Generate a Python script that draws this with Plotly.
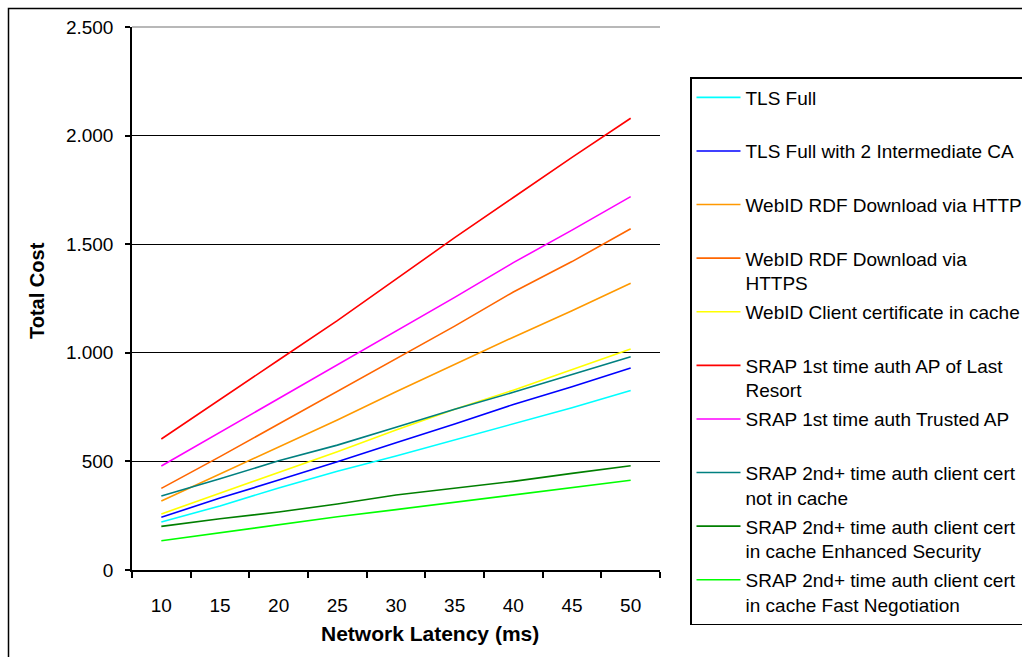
import plotly.graph_objects as go

# Network latency categories (ms)
latency = ["10", "15", "20", "25", "30", "35", "40", "45", "50"]

tls_full = [221, 295, 378, 455, 525, 599, 675, 747, 826]
tls_full_2ca = [243, 331, 414, 498, 586, 672, 762, 844, 930]
webid_http = [318, 442, 568, 691, 821, 947, 1072, 1194, 1320]
webid_https = [376, 522, 672, 823, 975, 1123, 1280, 1420, 1571]
webid_cached = [258, 353, 450, 545, 645, 740, 828, 924, 1017]
srap_first_last_resort = [603, 783, 967, 1148, 1340, 1530, 1715, 1900, 2080]
srap_first_trusted = [479, 634, 787, 944, 1100, 1255, 1415, 1565, 1719]
srap_second_not_cached = [341, 420, 503, 575, 657, 740, 818, 901, 982]
srap_second_enhanced = [201, 236, 267, 304, 345, 376, 408, 445, 480]
srap_second_fast = [135, 172, 207, 245, 278, 312, 346, 380, 413]

y_tickvals = [0, 500, 1000, 1500, 2000, 2500]
y_ticktext = ["0", "500", "1.000", "1.500", "2.000", "2.500"]

series = [
    ("TLS Full", tls_full, "#00FFFF"),
    ("TLS Full with 2 Intermediate CA", tls_full_2ca, "#0000FF"),
    ("WebID RDF Download via HTTP", webid_http, "#FF9900"),
    ("WebID RDF Download via<br>HTTPS", webid_https, "#FF6600"),
    ("WebID Client certificate in cache", webid_cached, "#FFFF00"),
    ("SRAP 1st time auth AP of Last<br>Resort", srap_first_last_resort, "#FF0000"),
    ("SRAP 1st time auth Trusted AP", srap_first_trusted, "#FF00FF"),
    ("SRAP 2nd+ time auth client cert<br>not in cache", srap_second_not_cached, "#008080"),
    ("SRAP 2nd+ time auth client cert<br>in cache Enhanced Security", srap_second_enhanced, "#007F00"),
    ("SRAP 2nd+ time auth client cert<br>in cache Fast Negotiation", srap_second_fast, "#00FF00"),
]

FONT = "Liberation Sans, Arial, sans-serif"

fig = go.Figure()
for i, (name, values, color) in enumerate(series):
    # every legend entry occupies two text lines so the entries are evenly spaced
    label = name if "<br>" in name else name + "<br>\u00a0"
    fig.add_trace(go.Scatter(
        x=latency, y=values, name=label, mode="lines",
        line=dict(color=color, width=1.6),
        legendgroup=f"g{i}",
    ))

W, H = 1022, 657
L, R, T, B = 132, 660, 27, 570
pw, ph = R - L, B - T

def px_x(x):
    return (x - L) / pw

def px_y(y):
    return (B - y) / ph

fig.update_layout(
    width=W, height=H,
    margin=dict(l=L, r=W - R, t=T, b=H - B, autoexpand=False),
    paper_bgcolor="white", plot_bgcolor="white",
    font=dict(family=FONT, size=19, color="black"),
    showlegend=True,
    legend=dict(
        x=px_x(690), y=px_y(77), xanchor="left", yanchor="top",
        bordercolor="black", borderwidth=1.5, bgcolor="white",
        font=dict(family=FONT, size=19, color="black"),
        valign="top", tracegroupgap=1.2, itemwidth=44, maxheight=900,
    ),
    xaxis=dict(
        type="category", range=[-0.5, 8.5],
        showline=True, linecolor="black", linewidth=1.5,
        ticks="outside", ticklen=6, tickwidth=1.5, tickcolor="black",
        tickson="boundaries", showgrid=False, ticklabelstandoff=17,
    ),
    yaxis=dict(
        range=[0, 2500], tickvals=y_tickvals, ticktext=y_ticktext,
        showline=True, linecolor="black", linewidth=1.5,
        ticks="outside", ticklen=5, tickwidth=1.5, tickcolor="black",
        showgrid=True, gridcolor="black", gridwidth=1.3,
        zeroline=False, ticklabelstandoff=8,
    ),
    annotations=[
        dict(text="<b>Total Cost</b>", textangle=-90, xref="paper", yref="paper",
             x=px_x(37), y=px_y(291), xanchor="center", yanchor="middle",
             showarrow=False, font=dict(family=FONT, size=20, color="black")),
        dict(text="<b>Network Latency (ms)</b>", xref="paper", yref="paper",
             x=px_x(430), y=px_y(633), xanchor="center", yanchor="middle",
             showarrow=False, font=dict(family=FONT, size=21, color="black")),
    ],
    shapes=[
        # top edge of the plotting area
        dict(type="line", xref="paper", yref="paper", x0=0, x1=1, y0=1, y1=1,
             line=dict(color="#A0A0A0", width=1.3), layer="above"),
        # chart frame
        dict(type="rect", xref="paper", yref="paper",
             x0=px_x(8.5), x1=px_x(1100), y0=px_y(700), y1=px_y(8.5),
             line=dict(color="black", width=1.5), layer="below"),
    ],
)

fig.write_html("out.html")
